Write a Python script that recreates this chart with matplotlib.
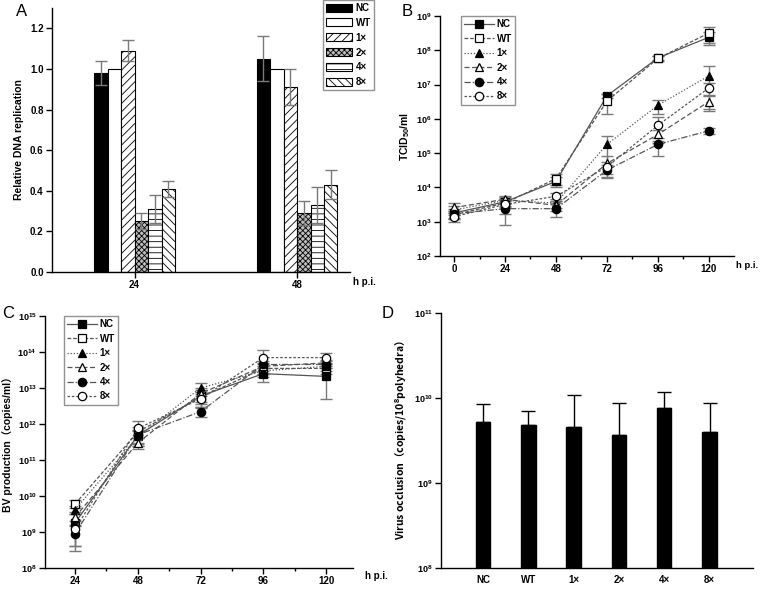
import numpy as np
import matplotlib
matplotlib.use("Agg")
import matplotlib.pyplot as plt
from matplotlib.lines import Line2D
from matplotlib.patches import Patch
from matplotlib.ticker import FixedLocator, LogFormatterMathtext, NullLocator, MultipleLocator

plt.rcParams['font.family'] = ['Liberation Sans', 'DejaVu Sans']
plt.rcParams['font.weight'] = 'bold'
plt.rcParams['mathtext.fontset'] = 'custom'
plt.rcParams['mathtext.rm'] = 'Liberation Sans:bold'
plt.rcParams['mathtext.bf'] = 'Liberation Sans:bold'
plt.rcParams['mathtext.it'] = 'Liberation Sans:bold'
plt.rcParams['hatch.linewidth'] = 0.6

# ---------------- data ----------------
series = ['NC', 'WT', '1×', '2×', '4×', '8×']

# Panel A
groups_A = ['24', '48']
dna_24 = [0.98, 1.00, 1.09, 0.25, 0.31, 0.41]
dna_24_err = [0.06, 0.0, 0.05, 0.04, 0.07, 0.04]
dna_48 = [1.05, 1.00, 0.91, 0.29, 0.33, 0.43]
dna_48_err = [0.11, 0.0, 0.09, 0.06, 0.09, 0.07]

# Panel B
hpi_B = [0, 24, 48, 72, 96, 120]
tcid_NC = [1.8e3, 3.8e3, 1.5e4, 4.7e6, 6.0e7, 2.4e8]
tcid_WT = [1.6e3, 3.5e3, 1.8e4, 3.3e6, 5.8e7, 3.2e8]
tcid_1x = [2.2e3, 4.2e3, 3.5e3, 1.8e5, 2.5e6, 1.8e7]
tcid_2x = [2.6e3, 4.5e3, 3.0e3, 5.0e4, 3.5e5, 3.2e6]
tcid_4x = [1.7e3, 2.4e3, 2.4e3, 3.2e4, 1.8e5, 4.5e5]
tcid_8x = [1.4e3, 3.2e3, 5.5e3, 4.0e4, 6.5e5, 8.0e6]
tcid_NC_err = [6e2, 1.0e3, 5e3, 6e5, 8e6, 1.0e8]
tcid_WT_err = [4e2, 8e2, 6e3, 1.9e6, 8e6, 1.6e8]
tcid_1x_err = [6e2, 1.0e3, 1.0e3, 1.4e5, 1.1e6, 1.6e7]
tcid_2x_err = [8e2, 1.0e3, 1.0e3, 3e4, 1.2e5, 1.5e6]
tcid_4x_err = [4e2, 1.6e3, 1.0e3, 1.3e4, 9.5e4, 1.0e5]
tcid_8x_err = [4e2, 1.5e3, 1.5e3, 1.5e4, 4.5e5, 3e6]

# Panel C
hpi_C = [24, 48, 72, 96, 120]
bv_NC = [1.8e9, 4.8e11, 6.0e12, 2.5e13, 2.1e13]
bv_WT = [6.0e9, 6.0e11, 5.5e12, 3.5e13, 3.5e13]
bv_1x = [4.2e9, 4.5e11, 1.0e13, 3.0e13, 4.0e13]
bv_2x = [2.6e9, 3.0e11, 7.0e12, 4.0e13, 5.0e13]
bv_4x = [9.0e8, 5.0e11, 2.2e12, 4.5e13, 4.5e13]
bv_8x = [1.2e9, 7.5e11, 5.0e12, 7.0e13, 7.0e13]
bv_NC_err = [1.4e9, 2e11, 3e12, 1e13, 1.6e13]
bv_WT_err = [1.5e9, 2e11, 2e12, 1e13, 1e13]
bv_1x_err = [1.0e9, 2e11, 4e12, 1e13, 1e13]
bv_2x_err = [1.0e9, 1e11, 3e12, 1e13, 1e13]
bv_4x_err = [6e8, 2e11, 6e11, 1e13, 1e13]
bv_8x_err = [8e8, 5e11, 2e12, 4.5e13, 2.5e13]

# Panel D
occ = [5.2e9, 4.8e9, 4.5e9, 3.7e9, 7.6e9, 4.0e9]
occ_err = [3.4e9, 2.2e9, 6.3e9, 5.1e9, 4.2e9, 4.7e9]

# ---------------- figure ----------------
W, H = 760, 592
fig = plt.figure(figsize=(W / 100, H / 100), dpi=100)


def ax_px(l, r, t, b):
    return fig.add_axes([l / W, 1 - b / H, (r - l) / W, (b - t) / H])


def style(ax):
    ax.spines['top'].set_visible(False)
    ax.spines['right'].set_visible(False)
    for s in ('left', 'bottom'):
        ax.spines[s].set_linewidth(1.0)
    ax.tick_params(direction='out', length=4, width=1, labelsize=7, pad=2)
    ax.tick_params(which='minor', direction='out', length=2.5, width=1)


GREY_ERR = '#7a7a7a'
LINE_GREY = '#555555'

# ---------- Panel A ----------
axA = ax_px(52, 350, 8, 272)
style(axA)
w = 0.083
hatches = [None, None, '////', 'xxxxxx', '---', '\\\\\\\\']
faces = ['black', 'white', 'white', '#bdbdbd', 'white', 'white']
xg = np.arange(len(groups_A))
for i in range(len(series)):
    vals = [dna_24[i], dna_48[i]]
    errs = [dna_24_err[i], dna_48_err[i]]
    pos = xg + (i - 2.5) * w
    axA.bar(pos, vals, width=w, color=faces[i], edgecolor='black', linewidth=0.8,
            hatch=hatches[i], zorder=2)
    for p, v, e in zip(pos, vals, errs):
        if e > 0:
            axA.errorbar(p, v, yerr=e, fmt='none', ecolor=GREY_ERR, elinewidth=1,
                         capsize=4, capthick=1, zorder=3)
axA.set_xlim(-0.508, 1.326)
axA.set_ylim(0, 1.3)
axA.set_xticks(xg)
axA.set_xticklabels(groups_A, fontweight='bold')
yt = np.arange(0, 1.21, 0.2)
axA.set_yticks(yt)
axA.set_yticklabels([f'{v:.1f}' for v in yt], fontweight='bold')
axA.set_ylabel('Relative DNA replication', fontsize=7.5, fontweight='bold', labelpad=4)
handlesA = [Patch(facecolor=faces[i], edgecolor='black', hatch=hatches[i], linewidth=0.8)
            for i in range(len(series))]
legA = fig.legend(handlesA, series, loc='upper right', bbox_to_anchor=(374 / W, 1 - 0 / H),
                  fontsize=7, frameon=True, fancybox=False, edgecolor='#777777',
                  handlelength=2.7, handleheight=0.9, labelspacing=0.5, borderpad=0.3,
                  handletextpad=0.4, borderaxespad=0)
legA.get_frame().set_linewidth(1)
fig.text(16 / W, 1 - 11 / H, 'A', fontsize=12, fontweight='normal', va='center', ha='left')
fig.text(353 / W, 1 - 282 / H, 'h p.i.', fontsize=7, fontweight='bold', va='center', ha='left')

# ---------- line styles for B and C ----------
mk = ['s', 's', '^', '^', 'o', 'o']
mfc = ['black', 'white', 'black', 'white', 'black', 'white']
ls = ['-', (0, (3, 1.5)), (0, (1, 1.5)), (0, (4, 2)), (0, (5, 1.5, 1, 1.5)), (0, (2, 1.5))]


def plot_lines(ax, x, ys, errs):
    for i in range(len(series)):
        ax.errorbar(x, ys[i], yerr=errs[i], fmt='none', ecolor=GREY_ERR, elinewidth=1,
                    capsize=4, capthick=1, zorder=2)
    for i in range(len(series)):
        ax.plot(x, ys[i], color=LINE_GREY, linestyle=ls[i], linewidth=0.9,
                marker=mk[i], markersize=6, markerfacecolor=mfc[i],
                markeredgecolor='black', markeredgewidth=0.9, zorder=3)


def legend_lines(bbox):
    hs = [Line2D([], [], color=LINE_GREY, linestyle=ls[i], linewidth=0.9, marker=mk[i],
                 markersize=6, markerfacecolor=mfc[i], markeredgecolor='black',
                 markeredgewidth=0.9) for i in range(len(series))]
    lg = fig.legend(hs, series, loc='upper left', bbox_to_anchor=bbox, fontsize=7,
                    frameon=True, fancybox=False, edgecolor='#777777', handlelength=3.0,
                    labelspacing=0.45, borderpad=0.35, handletextpad=0.3, borderaxespad=0)
    lg.get_frame().set_linewidth(1)


def log_axis(ax, lo_exp, hi_exp):
    ax.set_yscale('log')
    ax.set_ylim(10.0 ** lo_exp, 10.0 ** hi_exp)
    ax.yaxis.set_major_locator(FixedLocator([10.0 ** k for k in range(lo_exp, hi_exp + 1)]))
    ax.yaxis.set_major_formatter(LogFormatterMathtext())
    ax.yaxis.set_minor_locator(NullLocator())
    ax.tick_params(axis='y', labelsize=6.5)


# ---------- Panel B ----------
axB = ax_px(440, 734, 16, 256)
style(axB)
plot_lines(axB, hpi_B, [tcid_NC, tcid_WT, tcid_1x, tcid_2x, tcid_4x, tcid_8x],
           [tcid_NC_err, tcid_WT_err, tcid_1x_err, tcid_2x_err, tcid_4x_err, tcid_8x_err])
log_axis(axB, 2, 9)
axB.set_xlim(-6.6, 131.8)
axB.set_xticks(hpi_B)
axB.set_xticklabels([str(v) for v in hpi_B], fontweight='bold')
axB.xaxis.set_minor_locator(MultipleLocator(12))
axB.set_ylabel('TCID$_{50}$/ml', fontsize=7.5, fontweight='bold', labelpad=3)
legend_lines((461 / W, 1 - 16 / H))
fig.text(402 / W, 1 - 11 / H, 'B', fontsize=12, fontweight='normal', va='center', ha='left')
fig.text(736 / W, 1 - 266 / H, 'h p.i.', fontsize=6.8, fontweight='bold', va='center', ha='left')

# ---------- Panel C ----------
axC = ax_px(45, 353, 316, 568)
style(axC)
plot_lines(axC, hpi_C, [bv_NC, bv_WT, bv_1x, bv_2x, bv_4x, bv_8x],
           [bv_NC_err, bv_WT_err, bv_1x_err, bv_2x_err, bv_4x_err, bv_8x_err])
log_axis(axC, 8, 15)
axC.set_xlim(12.5, 130.3)
axC.set_xticks(hpi_C)
axC.set_xticklabels([str(v) for v in hpi_C], fontweight='bold')
axC.xaxis.set_minor_locator(MultipleLocator(12))
axC.set_ylabel('BV production（copies/ml）', fontsize=7.5, fontweight='bold', labelpad=3,
               family=['Liberation Sans', 'Noto Sans CJK SC'])
legend_lines((64 / W, 1 - 316 / H))
fig.text(2 / W, 1 - 314 / H, 'C', fontsize=12, fontweight='normal', va='center', ha='left')
fig.text(365 / W, 1 - 576 / H, 'h p.i.', fontsize=7, fontweight='bold', va='center', ha='left')

# ---------- Panel D ----------
axD = ax_px(441, 753, 313, 568)
style(axD)
xd = np.arange(len(series))
axD.bar(xd, occ, width=0.32, color='black', edgecolor='black', zorder=2)
axD.errorbar(xd, occ, yerr=[np.zeros(len(occ)), occ_err], fmt='none', ecolor='black',
             elinewidth=1, capsize=5, capthick=1, zorder=1)
log_axis(axD, 8, 11)
axD.set_xlim(-0.93, 5.96)
axD.set_xticks(xd)
axD.set_xticklabels(series, fontweight='bold')
axD.tick_params(axis='x', length=0, pad=5)
axD.set_ylabel('Virus occlusion（copies/10$^{8}$polyhedra）', fontsize=7.5,
               fontweight='bold', labelpad=3, family='Noto Sans CJK SC')
fig.text(382 / W, 1 - 314 / H, 'D', fontsize=12, fontweight='normal', va='center', ha='left')

fig.savefig('out.png', dpi=100)
